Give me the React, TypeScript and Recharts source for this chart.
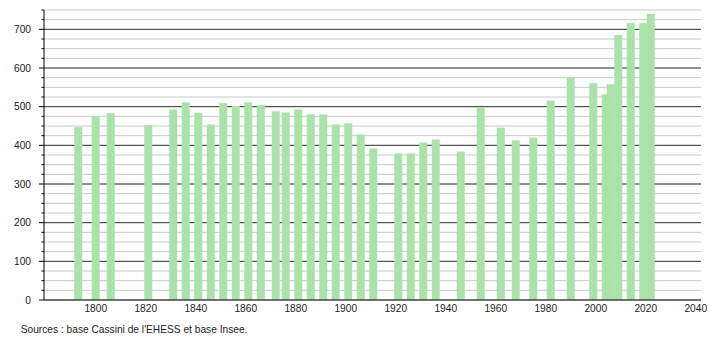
import React from 'react';
import { BarChart, Bar, XAxis, YAxis, CartesianGrid, ReferenceLine } from 'recharts';

const years = [1793, 1800, 1806, 1821, 1831, 1836, 1841, 1846, 1851, 1856, 1861, 1866, 1872, 1876, 1881, 1886, 1891, 1896, 1901, 1906, 1911, 1921, 1926, 1931, 1936, 1946, 1954, 1962, 1968, 1975, 1982, 1990, 1999, 2004, 2006, 2009, 2014, 2019, 2022];
const population = [447, 474, 483, 452, 493, 511, 484, 454, 509, 502, 511, 504, 488, 485, 493, 480, 480, 454, 457, 428, 392, 379, 379, 407, 415, 384, 498, 446, 413, 420, 516, 574, 561, 532, 558, 685, 716, 716, 740];
const xTicks = [1800, 1820, 1840, 1860, 1880, 1900, 1920, 1940, 1960, 1980, 2000, 2020, 2040];
const yTicks = [0, 25, 50, 75, 100, 125, 150, 175, 200, 225, 250, 275, 300, 325, 350, 375, 400, 425, 450, 475, 500, 525, 550, 575, 600, 625, 650, 675, 700, 725, 750];
const yMajor = [100, 200, 300, 400, 500, 600, 700];
const yLabels = [0, 100, 200, 300, 400, 500, 600, 700];
const sourceText = "Sources : base Cassini de l'EHESS et base Insee.";

const data = years.map((year, i) => ({ year, pop: population[i] }));

const FONT = '"Liberation Sans", Arial, Helvetica, sans-serif';
const BAR_COLOR = '#aae2aa';
const BAR_W = 8;

const BarShape = (props: any) => {
  const { x, y, width, height } = props;
  if (height == null || isNaN(height)) return null;
  const cx = x + width / 2;
  return <rect x={cx - BAR_W / 2} y={y} width={BAR_W} height={height} fill={BAR_COLOR} />;
};

const YTick = (props: any) => {
  const { x, y, payload } = props;
  const v = payload.value;
  const major = v % 100 === 0;
  return (
    <g>
      <line x1={x - (major ? 5 : 2.5)} x2={x} y1={y} y2={y} stroke="#000" strokeWidth={1} />
      {yLabels.includes(v) && (
        <text x={x - 13} y={y} dy="0.355em" textAnchor="end" fontSize={10.2} fontFamily={FONT} fill="#222">
          {v}
        </text>
      )}
    </g>
  );
};

export default function App() {
  return (
    <div style={{ position: 'absolute', left: 0, top: 0, width: 710, height: 340, background: '#fff' }}>
      <BarChart width={710} height={340} data={data} margin={{ top: 10, right: 9, bottom: 0, left: 0 }}>
        <CartesianGrid vertical={false} stroke="#c8c8c8" strokeWidth={1} />
        {yMajor.map((v) => (
          <ReferenceLine key={v} y={v} stroke="#3a3a3a" strokeWidth={1} zIndex={-50} />
        ))}
        <XAxis
          type="number"
          dataKey="year"
          domain={[1779.3, 2042.1]}
          ticks={xTicks}
          interval={0}
          allowDataOverflow
          height={40}
          tickLine={false}
          tickSize={0}
          tickMargin={5}
          axisLine={{ stroke: '#000' }}
          tick={{ fontSize: 10.2, fontFamily: FONT, fill: '#222' }}
        />
        <YAxis
          type="number"
          domain={[0, 750]}
          ticks={yTicks}
          interval={0}
          width={44}
          tickLine={false}
          tickSize={0}
          tickMargin={0}
          axisLine={{ stroke: '#000' }}
          tick={<YTick />}
        />
        <Bar dataKey="pop" fill={BAR_COLOR} isAnimationActive={false} shape={<BarShape />} />
      </BarChart>
      <div
        style={{
          position: 'absolute',
          left: 20.7,
          top: 324,
          fontSize: 10.2,
          lineHeight: '12px',
          fontFamily: FONT,
          color: '#222',
          whiteSpace: 'nowrap',
        }}
      >
        {sourceText}
      </div>
    </div>
  );
}
